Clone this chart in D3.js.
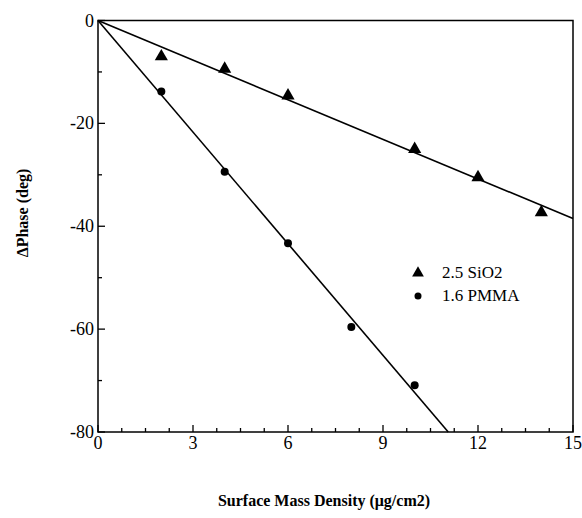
<!DOCTYPE html>
<html><head><meta charset="utf-8">
<script src="https://cdn.jsdelivr.net/npm/d3@7"></script>
</head><body style="margin:0">
<script>
const sio2X = [2, 4, 6, 10, 12, 14];
const sio2Y = [-7.0, -9.4, -14.6, -25.0, -30.5, -37.3];
const pmmaX = [2, 4, 6, 8, 10];
const pmmaY = [-13.8, -29.4, -43.3, -59.6, -70.9];
const sio2Fit = [[0, 0], [15, -38.5]];
const pmmaFit = [[0, 0], [11.06, -80]];
const xTicks = [0, 3, 6, 9, 12, 15];
const yTicks = [0, -20, -40, -60, -80];
const legendLabels = ["2.5 SiO2", "1.6 PMMA"];

const svg = d3.select("body").append("svg").attr("width", 582).attr("height", 518)
  .style("font-family", '"Liberation Serif"');
const m = {l: 98, t: 20.5, r: 573, b: 432};
const x = d3.scaleLinear().domain([0, 15]).range([m.l, m.r]);
const y = d3.scaleLinear().domain([-80, 0]).range([m.b, m.t]);
function txt(sel, size, bold) {
  return sel.style("font-family", '"Liberation Serif"').style("font-size", size + "px")
    .style("font-weight", bold ? "bold" : "normal").attr("fill", "#000");
}

svg.append("rect").attr("x", m.l).attr("y", m.t).attr("width", m.r - m.l).attr("height", m.b - m.t)
  .attr("fill", "none").attr("stroke", "#000").attr("stroke-width", 1.5);

const xMinor = d3.range(0, 15.001, 0.75);
svg.append("g").selectAll("line").data(xMinor).join("line")
  .attr("x1", d => x(d)).attr("x2", d => x(d))
  .attr("y1", m.b).attr("y2", d => m.b - (Math.abs(d % 3) < 1e-6 ? 7 : 4))
  .attr("stroke", "#000").attr("stroke-width", 1.3);
txt(svg.append("g").selectAll("text").data(xTicks).join("text")
  .attr("x", d => x(d)).attr("y", m.b + 17).attr("text-anchor", "middle").text(d => d), 18);

const yMinor = d3.range(-80, 0.001, 10);
svg.append("g").selectAll("line").data(yMinor).join("line")
  .attr("y1", d => y(d)).attr("y2", d => y(d))
  .attr("x1", m.l).attr("x2", d => m.l + (Math.abs(d % 20) < 1e-6 ? 7 : 4))
  .attr("stroke", "#000").attr("stroke-width", 1.3);
txt(svg.append("g").selectAll("text").data(yTicks).join("text")
  .attr("x", m.l - 4).attr("y", d => y(d) + 6).attr("text-anchor", "end").text(d => d), 18);

const line = d3.line().x(d => x(d[0])).y(d => y(d[1]));
[sio2Fit, pmmaFit].forEach(f => svg.append("path").attr("d", line(f))
  .attr("fill", "none").attr("stroke", "#000").attr("stroke-width", 1.6));

const tri = d3.symbol().type(d3.symbolTriangle).size(75);
svg.append("g").selectAll("path").data(sio2X.map((d, i) => [d, sio2Y[i]])).join("path")
  .attr("d", tri).attr("transform", d => `translate(${x(d[0])},${y(d[1])})`).attr("fill", "#000");
svg.append("g").selectAll("circle").data(pmmaX.map((d, i) => [d, pmmaY[i]])).join("circle")
  .attr("cx", d => x(d[0])).attr("cy", d => y(d[1])).attr("r", 4).attr("fill", "#000");

const lg = svg.append("g");
lg.append("path").attr("d", d3.symbol().type(d3.symbolTriangle).size(60)).attr("transform", "translate(418,273)");
lg.append("circle").attr("cx", 418).attr("cy", 296).attr("r", 3.5);
legendLabels.forEach((t, i) => txt(lg.append("text").attr("x", 442).attr("y", 278 + i * 23).text(t), 17));

txt(svg.append("text").attr("x", 324).attr("y", 506).attr("text-anchor", "middle")
  .text("Surface Mass Density (\u03bcg/cm2)"), 16, true);
txt(svg.append("text").attr("transform", "translate(28,213) rotate(-90)").attr("text-anchor", "middle")
  .text("\u0394Phase (deg)"), 16, true);
</script></body></html>
